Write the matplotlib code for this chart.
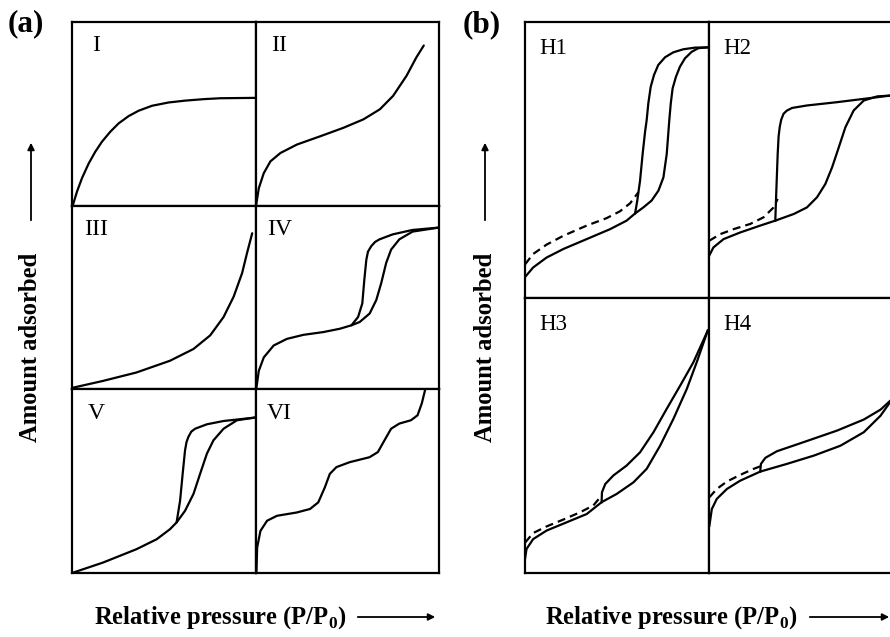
import matplotlib
matplotlib.use("Agg")
import matplotlib.pyplot as plt
from matplotlib.patches import FancyArrowPatch

plt.rcParams['font.family'] = ['Liberation Serif', 'DejaVu Serif']
plt.rcParams['mathtext.fontset'] = 'custom'
plt.rcParams['mathtext.rm'] = 'Liberation Serif:bold'

# ---- (a) IUPAC isotherm types, values as fractions of each cell ----
labels_a = ['I', 'II', 'III', 'IV', 'V', 'VI']

t1_x = [0.005, 0.027, 0.054, 0.091, 0.127, 0.163, 0.209, 0.254, 0.309, 0.363, 0.436, 0.527, 0.617, 0.717, 0.808, 1.0]
t1_y = [0.004, 0.076, 0.149, 0.230, 0.294, 0.348, 0.403, 0.448, 0.488, 0.517, 0.544, 0.562, 0.572, 0.580, 0.585, 0.587]

t2_x = [0.004, 0.018, 0.045, 0.081, 0.136, 0.226, 0.353, 0.479, 0.588, 0.678, 0.750, 0.823, 0.877, 0.917]
t2_y = [0.007, 0.095, 0.177, 0.241, 0.287, 0.333, 0.378, 0.424, 0.470, 0.525, 0.598, 0.707, 0.808, 0.872]

t3_x = [0.004, 0.168, 0.351, 0.534, 0.662, 0.753, 0.826, 0.881, 0.927, 0.954, 0.982]
t3_y = [0.009, 0.046, 0.092, 0.156, 0.220, 0.294, 0.394, 0.505, 0.633, 0.743, 0.850]

t4_ads_x = [0.005, 0.018, 0.045, 0.099, 0.171, 0.261, 0.369, 0.459, 0.523, 0.568, 0.622, 0.658, 0.685, 0.712, 0.739, 0.784, 0.856, 1.0]
t4_ads_y = [0.009, 0.101, 0.174, 0.239, 0.275, 0.297, 0.312, 0.330, 0.349, 0.367, 0.413, 0.486, 0.578, 0.688, 0.761, 0.817, 0.859, 0.881]
t4_des_x = [0.523, 0.559, 0.582, 0.593, 0.604, 0.613, 0.631, 0.652, 0.676, 0.748, 0.856, 1.0]
t4_des_y = [0.349, 0.394, 0.468, 0.596, 0.706, 0.750, 0.780, 0.803, 0.817, 0.844, 0.868, 0.881]

t5_ads_x = [0.004, 0.168, 0.351, 0.461, 0.534, 0.570, 0.616, 0.662, 0.698, 0.735, 0.771, 0.826, 0.899, 1.0]
t5_ads_y = [0.002, 0.057, 0.130, 0.184, 0.239, 0.276, 0.339, 0.431, 0.540, 0.650, 0.723, 0.786, 0.832, 0.847]
t5_des_x = [0.570, 0.589, 0.603, 0.616, 0.624, 0.634, 0.650, 0.671, 0.735, 0.826, 1.0]
t5_des_y = [0.276, 0.394, 0.540, 0.668, 0.713, 0.741, 0.770, 0.786, 0.810, 0.828, 0.847]

t6_x = [0.005, 0.009, 0.027, 0.063, 0.117, 0.225, 0.297, 0.342, 0.378, 0.405, 0.441, 0.514, 0.622,
        0.667, 0.703, 0.739, 0.784, 0.847, 0.883, 0.906, 0.924]
t6_y = [0.0, 0.139, 0.230, 0.285, 0.312, 0.330, 0.349, 0.385, 0.467, 0.540, 0.577, 0.604, 0.631,
        0.659, 0.723, 0.786, 0.814, 0.832, 0.859, 0.923, 0.996]

# ---- (b) hysteresis loop types ----
labels_b = ['H1', 'H2', 'H3', 'H4']

h1_ads_x = [0.004, 0.047, 0.120, 0.211, 0.338, 0.465, 0.555, 0.601, 0.646, 0.691, 0.728, 0.755, 0.773,
            0.787, 0.795, 0.805, 0.823, 0.845, 0.872, 0.909, 0.945, 1.0]
h1_ads_y = [0.075, 0.109, 0.145, 0.176, 0.212, 0.248, 0.279, 0.305, 0.327, 0.352, 0.388, 0.436, 0.521,
            0.644, 0.705, 0.759, 0.801, 0.838, 0.868, 0.892, 0.905, 0.908]
h1_des_x = [0.601, 0.613, 0.628, 0.642, 0.655, 0.664, 0.673, 0.686, 0.704, 0.727, 0.764, 0.809, 0.863, 0.927, 1.0]
h1_des_y = [0.305, 0.352, 0.424, 0.521, 0.600, 0.644, 0.705, 0.765, 0.808, 0.844, 0.872, 0.890, 0.901, 0.907, 0.908]
h1_low_x = [0.004, 0.047, 0.120, 0.211, 0.338, 0.446, 0.519, 0.574, 0.619]
h1_low_y = [0.121, 0.158, 0.192, 0.224, 0.261, 0.288, 0.313, 0.342, 0.382]

h2_ads_x = [0.004, 0.027, 0.082, 0.172, 0.281, 0.363, 0.463, 0.535, 0.590, 0.635, 0.672, 0.708, 0.744,
            0.789, 0.844, 0.917, 0.989]
h2_ads_y = [0.152, 0.182, 0.212, 0.236, 0.261, 0.279, 0.303, 0.327, 0.364, 0.412, 0.473, 0.545, 0.618,
            0.679, 0.715, 0.730, 0.733]
h2_des_x = [0.363, 0.368, 0.376, 0.381, 0.387, 0.395, 0.408, 0.425, 0.454, 0.535, 0.699, 0.844, 0.989]
h2_des_y = [0.279, 0.376, 0.521, 0.585, 0.618, 0.645, 0.667, 0.678, 0.688, 0.697, 0.709, 0.721, 0.733]
h2_low_x = [0.004, 0.064, 0.136, 0.227, 0.299, 0.354, 0.376]
h2_low_y = [0.206, 0.230, 0.248, 0.267, 0.291, 0.327, 0.358]

h3_ads_x = [0.0, 0.011, 0.047, 0.120, 0.229, 0.338, 0.419, 0.501, 0.592, 0.664, 0.737, 0.809, 0.882, 0.936, 0.996]
h3_ads_y = [0.039, 0.087, 0.123, 0.154, 0.184, 0.214, 0.257, 0.287, 0.329, 0.378, 0.462, 0.559, 0.668, 0.765, 0.880]
h3_des_x = [0.419, 0.421, 0.439, 0.483, 0.555, 0.628, 0.701, 0.773, 0.846, 0.918, 0.996]
h3_des_y = [0.257, 0.293, 0.323, 0.354, 0.390, 0.438, 0.511, 0.596, 0.680, 0.765, 0.880]
h3_low_x = [0.004, 0.047, 0.120, 0.211, 0.301, 0.374, 0.419]
h3_low_y = [0.111, 0.145, 0.169, 0.194, 0.220, 0.245, 0.281]

h4_ads_x = [0.005, 0.018, 0.045, 0.100, 0.172, 0.281, 0.426, 0.572, 0.717, 0.844, 0.935, 0.989]
h4_ads_y = [0.172, 0.232, 0.269, 0.305, 0.335, 0.368, 0.396, 0.426, 0.462, 0.511, 0.571, 0.622]
h4_des_x = [0.281, 0.285, 0.309, 0.372, 0.517, 0.699, 0.844, 0.935, 0.989]
h4_des_y = [0.368, 0.396, 0.418, 0.442, 0.475, 0.517, 0.557, 0.593, 0.626]
h4_low_x = [0.005, 0.045, 0.100, 0.172, 0.245, 0.281]
h4_low_y = [0.275, 0.305, 0.332, 0.356, 0.378, 0.387]

W, H = 890, 637
LW = 1.6
DASH = (0, (3.6, 2.3))

fig = plt.figure(figsize=(W / 100, H / 100), dpi=100)


def cell(left, top, w, h):
    ax = fig.add_axes([left / W, 1 - (top + h) / H, w / W, h / H])
    ax.set_xlim(0, 1)
    ax.set_ylim(0, 1)
    ax.set_xticks([])
    ax.set_yticks([])
    for s in ax.spines.values():
        s.set_linewidth(LW)
    return ax


# panel (a): 3 rows x 2 columns
aw, ah = 183.5, 183.7
a_cells = []
for r in range(3):
    for c in range(2):
        a_cells.append(cell(72 + c * aw, 22 + r * ah, aw, ah))

a_curves = [
    [(t1_x, t1_y)],
    [(t2_x, t2_y)],
    [(t3_x, t3_y)],
    [(t4_ads_x, t4_ads_y), (t4_des_x, t4_des_y)],
    [(t5_ads_x, t5_ads_y), (t5_des_x, t5_des_y)],
    [(t6_x, t6_y)],
]
for ax, lab, curves in zip(a_cells, labels_a, a_curves):
    for x, y in curves:
        ax.plot(x, y, color='black', lw=LW, solid_joinstyle='round', solid_capstyle='round')
    ax.text(0.13, 0.87, lab, transform=ax.transAxes, ha='center', va='center', fontsize=17)

# panel (b): 2 x 2, right column runs off the page
bw, bh = 184, 275.5
b_cells = []
for r in range(2):
    for c in range(2):
        b_cells.append(cell(524.5 + c * bw, 22 + r * bh, bw, bh))

b_curves = [
    (h1_ads_x, h1_ads_y, h1_des_x, h1_des_y, h1_low_x, h1_low_y),
    (h2_ads_x, h2_ads_y, h2_des_x, h2_des_y, h2_low_x, h2_low_y),
    (h3_ads_x, h3_ads_y, h3_des_x, h3_des_y, h3_low_x, h3_low_y),
    (h4_ads_x, h4_ads_y, h4_des_x, h4_des_y, h4_low_x, h4_low_y),
]
for ax, lab, (ax_, ay_, dx_, dy_, lx_, ly_) in zip(b_cells, labels_b, b_curves):
    ax.plot(ax_, ay_, color='black', lw=LW, solid_joinstyle='round')
    ax.plot(dx_, dy_, color='black', lw=LW, solid_joinstyle='round')
    ax.plot(lx_, ly_, color='black', lw=LW, linestyle=DASH)
    ax.text(0.079, 0.902, lab, transform=ax.transAxes, ha='left', va='center', fontsize=16.5)

# panel letters
fig.text(26 / W, 1 - 24 / H, '(a)', ha='center', va='center', fontsize=22.5, fontweight='bold')
fig.text(482 / W, 1 - 25 / H, '(b)', ha='center', va='center', fontsize=22.5, fontweight='bold')

# axis titles with arrows
xlab = r'Relative pressure (P/P$_\mathregular{0}$)'
for tx, a0, a1 in [(220, 355, 438), (671, 807, 892)]:
    fig.text(tx / W, 1 - 618 / H, xlab, ha='center', va='center', fontsize=17.7, fontweight='bold')
    fig.add_artist(FancyArrowPatch((a0 / W, 1 - 617 / H), (a1 / W, 1 - 617 / H),
                                   transform=fig.transFigure, arrowstyle='-|>',
                                   mutation_scale=10, lw=1.3, color='black'))

for yx in [31, 485]:
    fig.text(yx / W, 1 - 347 / H, 'Amount adsorbed', ha='center', va='center',
             rotation=90, fontsize=17.7, fontweight='bold')
    fig.add_artist(FancyArrowPatch((yx / W, 1 - 223 / H), (yx / W, 1 - 140 / H),
                                   transform=fig.transFigure, arrowstyle='-|>',
                                   mutation_scale=10, lw=1.3, color='black'))

fig.savefig('out.png', dpi=100)
